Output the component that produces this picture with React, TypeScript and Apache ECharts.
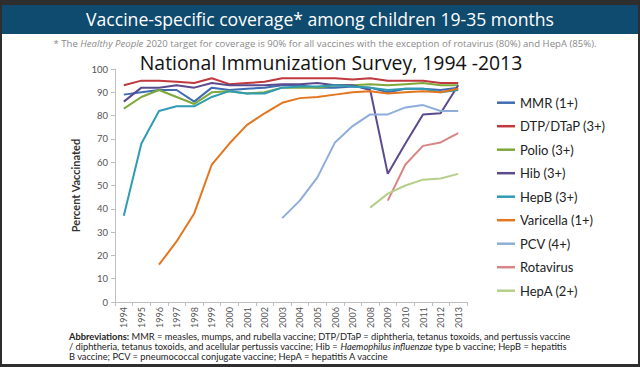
import React, { useEffect, useRef } from "react";
import * as echarts from "echarts";

const years = ["1994","1995","1996","1997","1998","1999","2000","2001","2002","2003","2004","2005","2006","2007","2008","2009","2010","2011","2012","2013"];

const mmr = [89, 90, 91, 91, 86, 92, 91, 91.5, 92, 93, 93, 92, 92, 92.5, 92, 90, 91.5, 91.5, 91, 92];
const dtp = [93, 95, 95, 94.5, 94, 96, 93.5, 94, 94.5, 96, 96, 96, 96, 95.5, 96, 95, 95, 95, 94, 94];
const polio = [83, 88, 91, 88, 85, 90, 90.5, 89.5, 90, 92, 92, 92, 93, 93, 93.5, 93, 93.5, 94, 93, 93];
const hib = [86, 92, 92, 93, 92, 94, 93, 93, 93, 93.5, 93.5, 94, 93, 93, 91, 55, 68, 80.5, 81, 93];
const hepb = [37, 68, 82, 84, 84, 88, 90.5, 89.5, 89.5, 92, 92.5, 92.5, 93, 92.5, 92, 91, 91.5, 91.5, 90, 91];
const varicella = [null, null, 16, 26, 38, 59, 68, 76, 81, 85.5, 87.5, 88, 89, 90, 90.5, 89.5, 90, 90.5, 90, 91.5];
const pcv = [null, null, null, null, null, null, null, null, null, 36, 43.5, 53.5, 68.5, 75.5, 80.5, 80.5, 83.5, 84.5, 82, 82];
const rota = [null, null, null, null, null, null, null, null, null, null, null, null, null, null, null, 43.5, 59, 67, 68.5, 72.5];
const hepa = [null, null, null, null, null, null, null, null, null, null, null, null, null, null, 40.5, 46.5, 50, 52.5, 53, 55];

const seriesNames = ["MMR (1+)", "DTP/DTaP (3+)", "Polio (3+)", "Hib (3+)", "HepB (3+)", "Varicella (1+)", "PCV (4+)", "Rotavirus", "HepA (2+)"];
const seriesData = [mmr, dtp, polio, hib, hepb, varicella, pcv, rota, hepa];
const seriesColors = ["#3f6db3", "#c0393f", "#7ea83a", "#5b4a8e", "#2f9cb3", "#e2761f", "#8eaddb", "#d98585", "#b5cf8a"];

const headerTitle = "Vaccine-specific coverage* among children 19-35 months";
const chartTitle = "National Immunization Survey, 1994 -2013";

export default function App() {
  const ref = useRef<HTMLDivElement>(null);
  useEffect(() => {
    if (!ref.current) return;
    const chart = echarts.init(ref.current, null, { renderer: "svg" });
    chart.setOption({
      animation: false,
      backgroundColor: "#ffffff",
      grid: { left: 115, right: 173, top: 69, bottom: 65 },
      xAxis: {
        type: "category",
        data: years,
        boundaryGap: true,
        axisLine: { lineStyle: { color: "#bfbfbf" } },
        axisTick: { show: true, length: 4, lineStyle: { color: "#bfbfbf" } },
        axisLabel: { rotate: 90, fontSize: 9, color: "#555", fontFamily: "Lato", margin: 5 },
      },
      yAxis: {
        type: "value",
        min: 0,
        max: 100,
        interval: 10,
        name: "Percent Vaccinated",
        nameLocation: "middle",
        nameGap: 28,
        nameTextStyle: { fontSize: 11, fontWeight: "bold", color: "#333", fontFamily: "Lato" },
        axisLine: { show: true, lineStyle: { color: "#bfbfbf" } },
        axisTick: { show: true, length: 4, lineStyle: { color: "#bfbfbf" } },
        splitLine: { show: false },
        axisLabel: { fontSize: 9.5, color: "#555", fontFamily: "Lato", margin: 7 },
      },
      legend: {
        orient: "vertical",
        left: 492,
        top: 90,
        icon: "rect",
        itemWidth: 18,
        itemHeight: 2.5,
        itemGap: 8.1,
        textStyle: { fontSize: 13, color: "#222", fontFamily: "Lato", lineHeight: 15.4 },
        data: seriesNames,
      },
      series: seriesNames.map((n, i) => ({
        name: n,
        type: "line",
        data: seriesData[i],
        symbol: "none",
        connectNulls: false,
        lineStyle: { width: 2, color: seriesColors[i] },
        itemStyle: { color: seriesColors[i] },
      })),
      graphic: [
        { type: "rect", z: -10, shape: { x: 0, y: 0, width: 640, height: 367 }, style: { fill: "#2e2e2e" } },
        { type: "rect", z: -9, shape: { x: 2, y: 34, width: 636, height: 330 }, style: { fill: "#ffffff" } },
        { type: "rect", z: -9, shape: { x: 2, y: 5, width: 636, height: 29 }, style: { fill: "#0f4a6f" } },
        {
          type: "text", x: 320, y: 19,
          style: { text: headerTitle, fill: "#ffffff", fontSize: 17.6, fontFamily: "Open Sans", align: "center", verticalAlign: "middle" },
        },
        {
          type: "text", x: 325, y: 43,
          style: {
            text: "{a|* The }{i|Healthy People}{a| 2020 target for coverage is 90% for all vaccines with the exception of rotavirus (80%) and HepA (85%).}",
            align: "center", verticalAlign: "middle",
            rich: {
              a: { fontSize: 9.6, fill: "#8a8a8a", fontFamily: "Open Sans" },
              i: { fontSize: 9.6, fill: "#8a8a8a", fontFamily: "Open Sans", fontStyle: "italic" },
            },
          },
        },
        {
          type: "text", x: 331, y: 62,
          style: { text: chartTitle, fill: "#111", fontSize: 19.4, fontFamily: "Open Sans", align: "center", verticalAlign: "middle" },
        },
        {
          type: "text", x: 69, y: 331,
          style: {
            text: "{b|Abbreviations:}{a| MMR = measles, mumps, and rubella vaccine; DTP/DTaP = diphtheria, tetanus toxoids, and pertussis vaccine}\n{a|/ diphtheria, tetanus toxoids, and acellular pertussis vaccine; Hib = }{i|Haemophilus influenzae}{a| type b vaccine; HepB = hepatitis}\n{a|B vaccine; PCV = pneumococcal conjugate vaccine; HepA = hepatitis A vaccine}",
            rich: {
              a: { fontSize: 9.3, fill: "#222", fontFamily: "Lato", lineHeight: 10.3 },
              b: { fontSize: 9.3, fill: "#222", fontFamily: "Lato", fontWeight: "bold", lineHeight: 10.3 },
              i: { fontSize: 9.3, fill: "#222", fontFamily: "Lato", fontStyle: "italic", lineHeight: 10.3 },
            },
          },
        },
      ],
    });
    return () => chart.dispose();
  }, []);
  return <div ref={ref} style={{ position: "fixed", left: 0, top: 0, width: 640, height: 367 }} />;
}
